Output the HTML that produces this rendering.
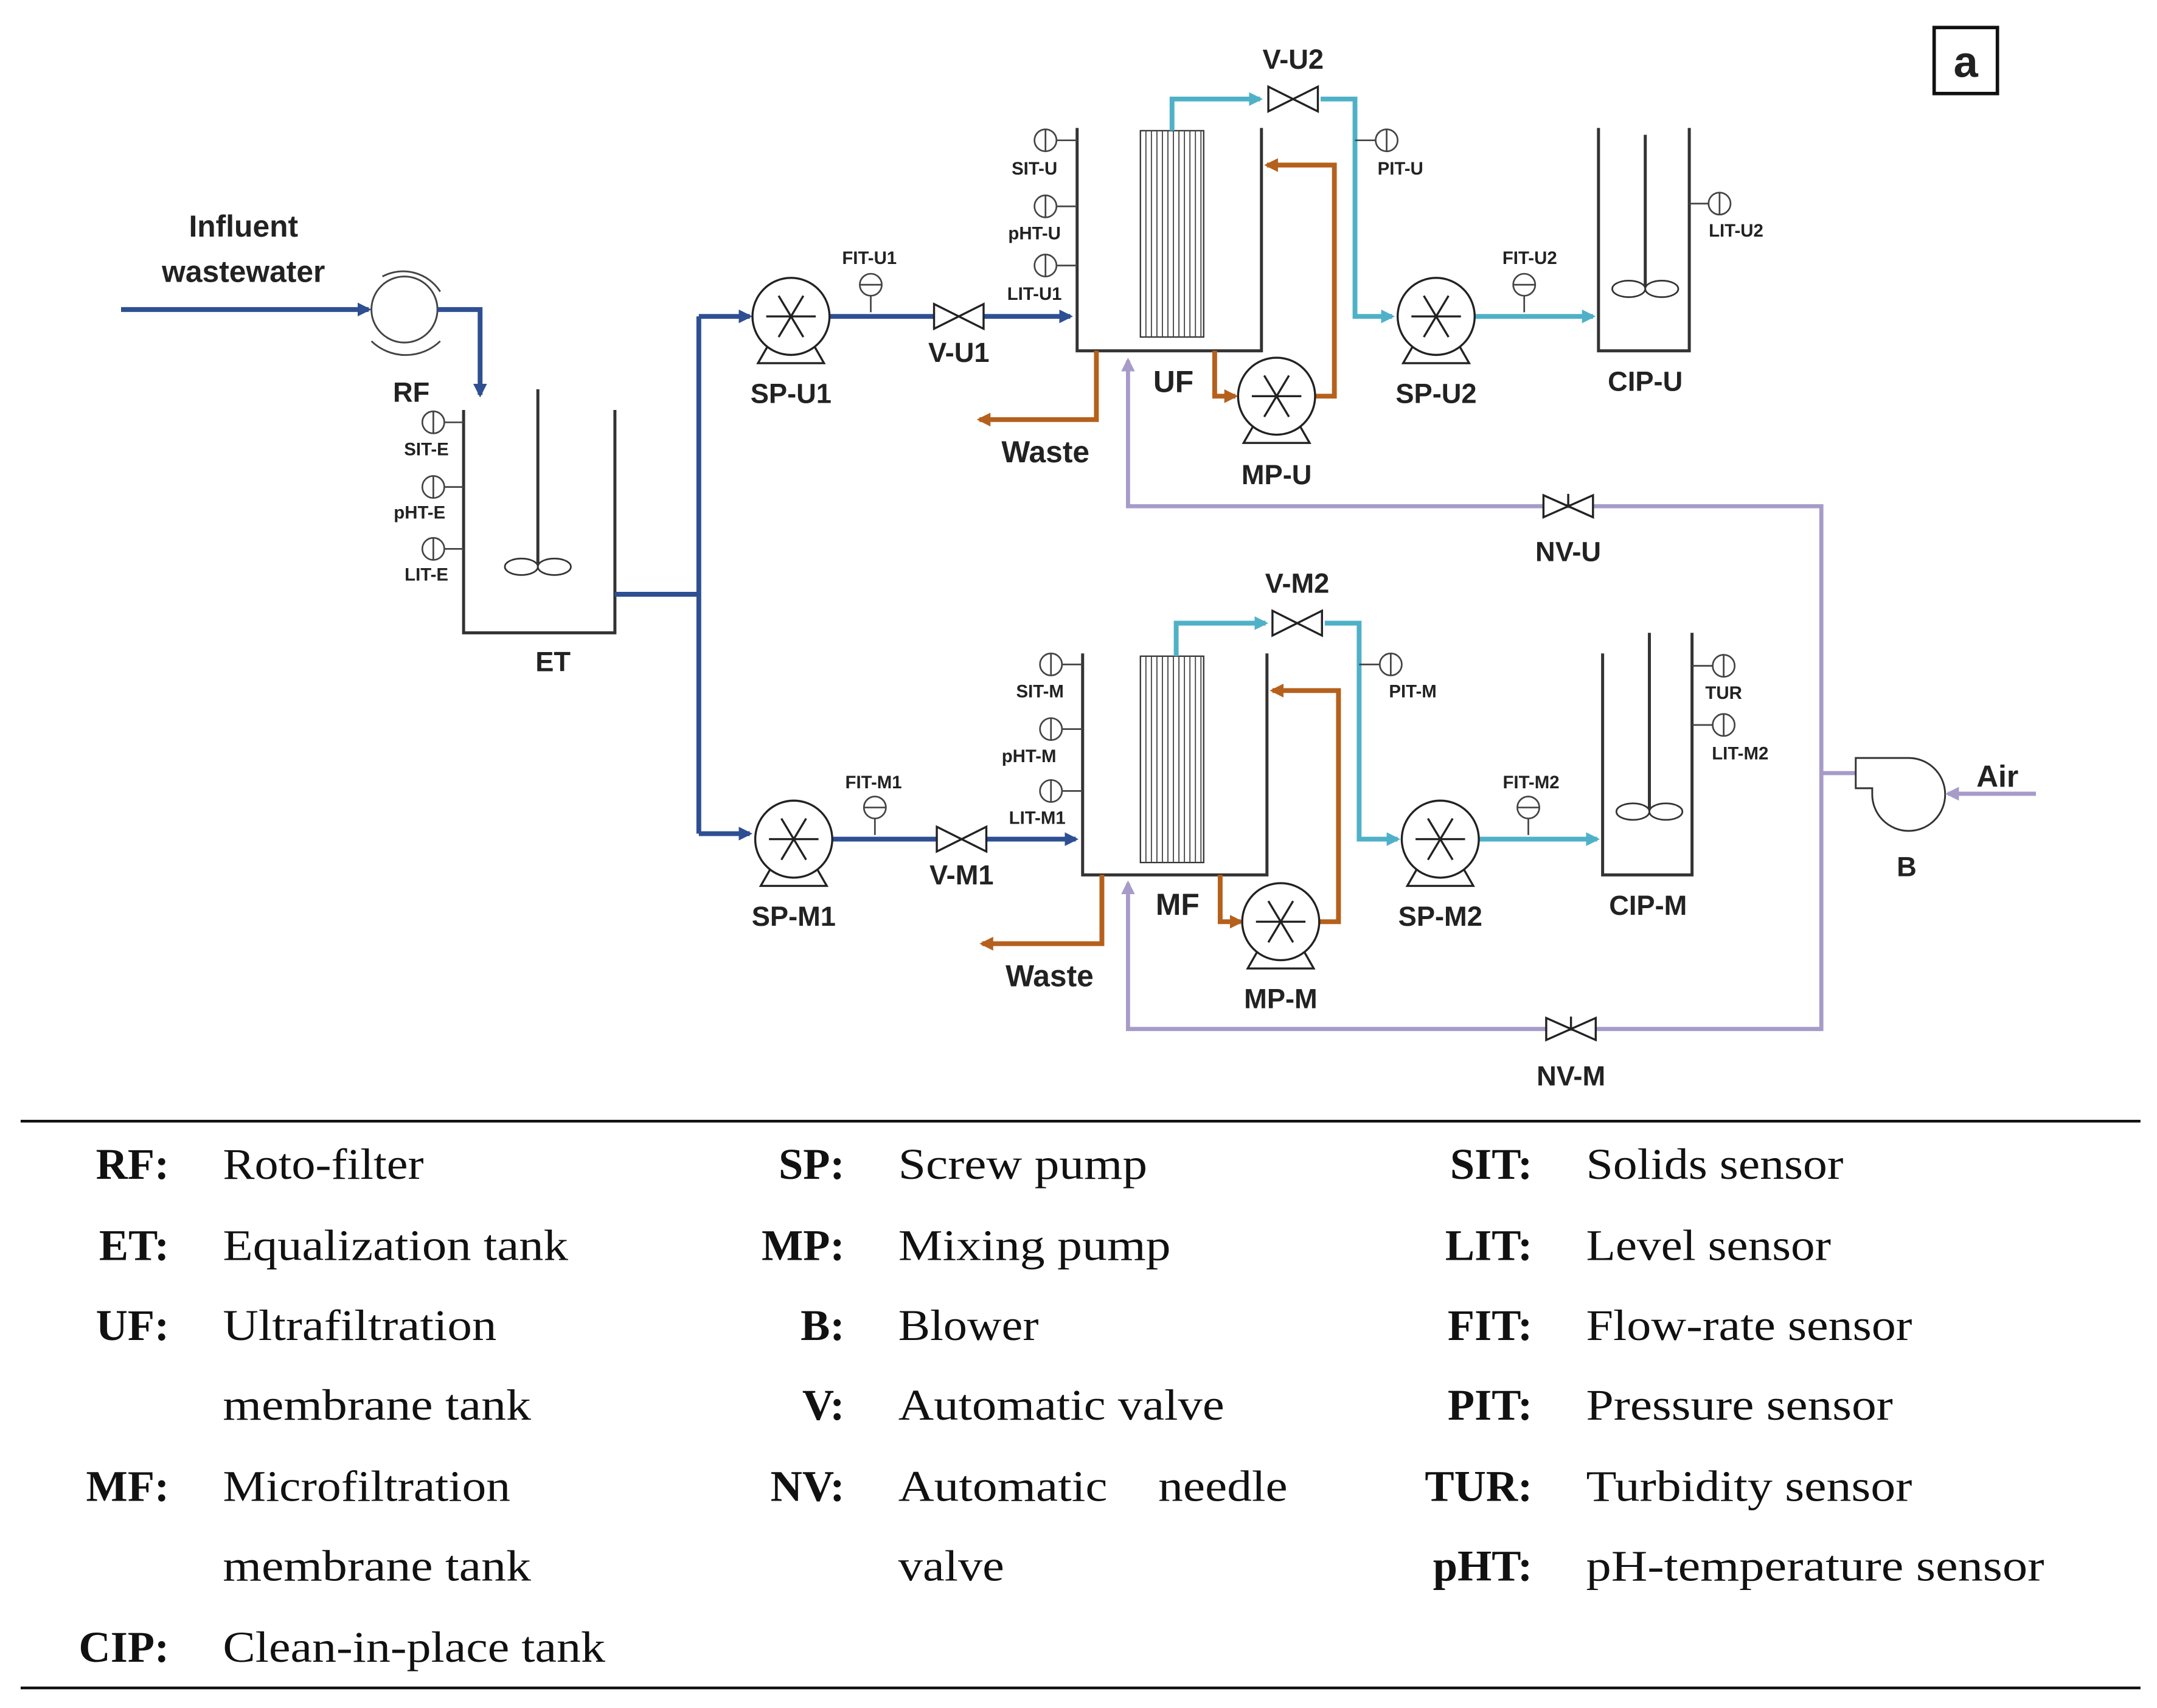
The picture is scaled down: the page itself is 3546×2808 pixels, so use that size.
<!DOCTYPE html>
<html><head><meta charset="utf-8"><style>
html,body{margin:0;padding:0;background:#fff}
svg{display:block}
.l{font-family:"Liberation Sans",sans-serif;font-weight:bold;fill:#222}
.s{font-size:13px}
.m{font-size:22px}
.t{font-family:"Liberation Serif",serif;font-size:32px;fill:#111}
.b{font-weight:bold}
</style></head><body>
<svg width="3546" height="2808" viewBox="0 0 1568 1241.6" preserveAspectRatio="none" xmlns="http://www.w3.org/2000/svg">
<defs>
<marker id="ab" markerWidth="10" markerHeight="10" refX="8" refY="5" orient="auto" markerUnits="userSpaceOnUse"><path d="M0,0 L10,5 L0,10 z" fill="#2e4f92"/></marker>
<marker id="ac" markerWidth="10" markerHeight="10" refX="8" refY="5" orient="auto" markerUnits="userSpaceOnUse"><path d="M0,0 L10,5 L0,10 z" fill="#4fb1c8"/></marker>
<marker id="ao" markerWidth="10" markerHeight="10" refX="8" refY="5" orient="auto" markerUnits="userSpaceOnUse"><path d="M0,0 L10,5 L0,10 z" fill="#b5601c"/></marker>
<marker id="ap" markerWidth="10" markerHeight="10" refX="8" refY="5" orient="auto" markerUnits="userSpaceOnUse"><path d="M0,0 L10,5 L0,10 z" fill="#a79bc9"/></marker>
<g id="pump" fill="#fff" stroke="#222" stroke-width="1.5"><path d="M-16,20 L-24,34 L24,34 L16,20"/><circle r="28"/><path d="M-18,0 H18 M-9,-15 L9,15 M-9,15 L9,-15" fill="none"/></g>
<g id="valve" fill="#fff" stroke="#222" stroke-width="1.5"><path d="M-18,-9 L18,9 L18,-9 L-18,9 Z"/></g>
<g id="nvalve" fill="#fff" stroke="#222" stroke-width="1.5"><path d="M-18,-8 L18,8 L18,-8 L-18,8 Z"/><path d="M0,0 V-9" /></g>
<g id="sen" fill="#fff" stroke="#444" stroke-width="1.2"><circle r="8"/><path d="M0,-8 V8"/></g>
<g id="fsen" fill="#fff" stroke="#444" stroke-width="1.2"><path d="M0,8 V20"/><circle r="8"/><path d="M-8,0 H8"/></g>
</defs>

<rect x="1406" y="20" width="46" height="48" fill="none" stroke="#111" stroke-width="2.5"/>
<text x="1429" y="56" text-anchor="middle" class="l" style="font-size:32px">a</text>

<text x="177" y="172" text-anchor="middle" class="l m">Influent</text>
<text x="177" y="205" text-anchor="middle" class="l m">wastewater</text>
<path d="M88,225 H268" stroke="#2e4f92" stroke-width="3.5" fill="none" marker-end="url(#ab)"/>
<circle cx="294" cy="225" r="24" fill="#fff" stroke="#444" stroke-width="1.3"/>
<path d="M278,201 A32,32 0 0 1 320,212" fill="none" stroke="#444" stroke-width="1.3"/>
<path d="M270,248 A36,36 0 0 0 320,248" fill="none" stroke="#444" stroke-width="1.3"/>
<path d="M318,225 H349 V287" stroke="#2e4f92" stroke-width="3.5" fill="none" marker-end="url(#ab)"/>
<text x="299" y="292" text-anchor="middle" class="l" style="font-size:20px">RF</text>

<path d="M337,298 V460 H447 V298" fill="none" stroke="#333" stroke-width="2.2"/>
<path d="M391,283 V410" stroke="#333" stroke-width="2.2"/>
<ellipse cx="379" cy="412" rx="12" ry="6" fill="#fff" stroke="#333" stroke-width="1.2"/>
<ellipse cx="403" cy="412" rx="12" ry="6" fill="#fff" stroke="#333" stroke-width="1.2"/>
<path d="M323,307 H337 M323,354 H337 M323,399 H337" stroke="#444" stroke-width="1.2"/>
<use href="#sen" x="315" y="307"/><use href="#sen" x="315" y="354"/><use href="#sen" x="315" y="399"/>
<text x="310" y="331" text-anchor="middle" class="l s">SIT-E</text>
<text x="305" y="377" text-anchor="middle" class="l s">pHT-E</text>
<text x="310" y="422" text-anchor="middle" class="l s">LIT-E</text>
<text x="402" y="488" text-anchor="middle" class="l" style="font-size:20px">ET</text>

<path d="M447,432 H508 M508,230 V606" stroke="#2e4f92" stroke-width="3.5" fill="none"/>
<path d="M508,230 H545" stroke="#2e4f92" stroke-width="3.5" fill="none" marker-end="url(#ab)"/>
<path d="M508,606 H545" stroke="#2e4f92" stroke-width="3.5" fill="none" marker-end="url(#ab)"/>

<path d="M603,230 H680 M715,230 H778" stroke="#2e4f92" stroke-width="3.5" fill="none" marker-end="url(#ab)"/>
<use href="#pump" x="575" y="230"/>
<use href="#valve" x="697" y="230"/>
<use href="#fsen" x="633" y="207"/>
<text x="632" y="192" text-anchor="middle" class="l s">FIT-U1</text>
<text x="575" y="293" text-anchor="middle" class="l" style="font-size:20px">SP-U1</text>
<text x="697" y="263" text-anchor="middle" class="l" style="font-size:20px">V-U1</text>
<path d="M783,93 V255 H917 V93" fill="none" stroke="#333" stroke-width="2.2"/>
<rect x="829" y="95" width="46" height="150" fill="#fff" stroke="#333" stroke-width="1"/>
<path d="M833,95V245M837,95V245M841,95V245M845,95V245M849,95V245M853,95V245M857,95V245M861,95V245M865,95V245M869,95V245M873,95V245" stroke="#444" stroke-width="0.8"/>
<path d="M768,102 H783 M768,150 H783 M768,193 H783" stroke="#444" stroke-width="1.2"/>
<use href="#sen" x="760" y="102"/><use href="#sen" x="760" y="150"/><use href="#sen" x="760" y="193"/>
<text x="752" y="127" text-anchor="middle" class="l s">SIT-U</text>
<text x="752" y="174" text-anchor="middle" class="l s">pHT-U</text>
<text x="752" y="218" text-anchor="middle" class="l s">LIT-U1</text>
<text x="853" y="285" text-anchor="middle" class="l" style="font-size:22px">UF</text>
<path d="M852,95 V72 H916" stroke="#4fb1c8" stroke-width="3.5" fill="none" marker-end="url(#ac)"/>
<path d="M960,72 H985 V230 H1012" stroke="#4fb1c8" stroke-width="3.5" fill="none" marker-end="url(#ac)"/>
<path d="M1072,230 H1158" stroke="#4fb1c8" stroke-width="3.5" fill="none" marker-end="url(#ac)"/>
<use href="#valve" x="940" y="72"/>
<text x="940" y="50" text-anchor="middle" class="l" style="font-size:20px">V-U2</text>
<path d="M985,102 H1000" stroke="#444" stroke-width="1.2"/><use href="#sen" x="1008" y="102"/>
<text x="1018" y="127" text-anchor="middle" class="l s">PIT-U</text>
<use href="#pump" x="1044" y="230"/>
<text x="1044" y="293" text-anchor="middle" class="l" style="font-size:20px">SP-U2</text>
<use href="#fsen" x="1108" y="207"/>
<text x="1112" y="192" text-anchor="middle" class="l s">FIT-U2</text>
<path d="M883,255 V288 H898" stroke="#b5601c" stroke-width="3.5" fill="none" marker-end="url(#ao)"/>
<path d="M956,288 H970 V120 H921" stroke="#b5601c" stroke-width="3.5" fill="none" marker-end="url(#ao)"/>
<path d="M797,255 V305 H712" stroke="#b5601c" stroke-width="3.5" fill="none" marker-end="url(#ao)"/>
<use href="#pump" x="928" y="288"/>
<text x="760" y="336" text-anchor="middle" class="l" style="font-size:22px">Waste</text>
<text x="928" y="352" text-anchor="middle" class="l" style="font-size:20px">MP-U</text>
<path d="M1162,93 V255 H1228 V93" fill="none" stroke="#333" stroke-width="2.2"/>
<path d="M1196,98 V208" stroke="#333" stroke-width="2.2"/>
<ellipse cx="1184" cy="210" rx="12" ry="6" fill="#fff" stroke="#333" stroke-width="1.2"/>
<ellipse cx="1208" cy="210" rx="12" ry="6" fill="#fff" stroke="#333" stroke-width="1.2"/>
<path d="M1228,148 H1242" stroke="#444" stroke-width="1.2"/><use href="#sen" x="1250" y="148"/>
<text x="1262" y="172" text-anchor="middle" class="l s">LIT-U2</text>
<text x="1196" y="284" text-anchor="middle" class="l" style="font-size:20px">CIP-U</text>

<path d="M605,610 H682 M717,610 H782" stroke="#2e4f92" stroke-width="3.5" fill="none" marker-end="url(#ab)"/>
<use href="#pump" x="577" y="610"/>
<use href="#valve" x="699" y="610"/>
<use href="#fsen" x="636" y="587"/>
<text x="635" y="573" text-anchor="middle" class="l s">FIT-M1</text>
<text x="577" y="673" text-anchor="middle" class="l" style="font-size:20px">SP-M1</text>
<text x="699" y="643" text-anchor="middle" class="l" style="font-size:20px">V-M1</text>
<path d="M787,475 V636 H921 V475" fill="none" stroke="#333" stroke-width="2.2"/>
<rect x="829" y="477" width="46" height="150" fill="#fff" stroke="#333" stroke-width="1"/>
<path d="M833,477V627M837,477V627M841,477V627M845,477V627M849,477V627M853,477V627M857,477V627M861,477V627M865,477V627M869,477V627M873,477V627" stroke="#444" stroke-width="0.8"/>
<path d="M772,483 H787 M772,530 H787 M772,575 H787" stroke="#444" stroke-width="1.2"/>
<use href="#sen" x="764" y="483"/><use href="#sen" x="764" y="530"/><use href="#sen" x="764" y="575"/>
<text x="756" y="507" text-anchor="middle" class="l s">SIT-M</text>
<text x="748" y="554" text-anchor="middle" class="l s">pHT-M</text>
<text x="754" y="599" text-anchor="middle" class="l s">LIT-M1</text>
<text x="856" y="665" text-anchor="middle" class="l" style="font-size:22px">MF</text>
<path d="M855,477 V453 H920" stroke="#4fb1c8" stroke-width="3.5" fill="none" marker-end="url(#ac)"/>
<path d="M963,453 H988 V610 H1016" stroke="#4fb1c8" stroke-width="3.5" fill="none" marker-end="url(#ac)"/>
<path d="M1075,610 H1161" stroke="#4fb1c8" stroke-width="3.5" fill="none" marker-end="url(#ac)"/>
<use href="#valve" x="943" y="453"/>
<text x="943" y="431" text-anchor="middle" class="l" style="font-size:20px">V-M2</text>
<path d="M988,483 H1003" stroke="#444" stroke-width="1.2"/><use href="#sen" x="1011" y="483"/>
<text x="1027" y="507" text-anchor="middle" class="l s">PIT-M</text>
<use href="#pump" x="1047" y="610"/>
<text x="1047" y="673" text-anchor="middle" class="l" style="font-size:20px">SP-M2</text>
<use href="#fsen" x="1111" y="587"/>
<text x="1113" y="573" text-anchor="middle" class="l s">FIT-M2</text>
<path d="M887,636 V670 H902" stroke="#b5601c" stroke-width="3.5" fill="none" marker-end="url(#ao)"/>
<path d="M959,670 H973 V502 H925" stroke="#b5601c" stroke-width="3.5" fill="none" marker-end="url(#ao)"/>
<path d="M801,636 V686 H714" stroke="#b5601c" stroke-width="3.5" fill="none" marker-end="url(#ao)"/>
<use href="#pump" x="931" y="670"/>
<text x="763" y="717" text-anchor="middle" class="l" style="font-size:22px">Waste</text>
<text x="931" y="733" text-anchor="middle" class="l" style="font-size:20px">MP-M</text>
<path d="M1165,475 V636 H1230 V460" fill="none" stroke="#333" stroke-width="2.2"/>
<path d="M1199,460 V588" stroke="#333" stroke-width="2.2"/>
<ellipse cx="1187" cy="590" rx="12" ry="6" fill="#fff" stroke="#333" stroke-width="1.2"/>
<ellipse cx="1211" cy="590" rx="12" ry="6" fill="#fff" stroke="#333" stroke-width="1.2"/>
<path d="M1230,484 H1245 M1230,527 H1245" stroke="#444" stroke-width="1.2"/>
<use href="#sen" x="1253" y="484"/><use href="#sen" x="1253" y="527"/>
<text x="1253" y="508" text-anchor="middle" class="l s">TUR</text>
<text x="1265" y="552" text-anchor="middle" class="l s">LIT-M2</text>
<text x="1198" y="665" text-anchor="middle" class="l" style="font-size:20px">CIP-M</text>

<path d="M1324,562 V368 H820 V262" stroke="#a79bc9" stroke-width="3" fill="none" marker-end="url(#ap)"/>
<path d="M1324,562 V748 H820 V642" stroke="#a79bc9" stroke-width="3" fill="none" marker-end="url(#ap)"/>
<path d="M1324,562 H1349" stroke="#a79bc9" stroke-width="3" fill="none"/>
<use href="#nvalve" x="1140" y="368"/>
<use href="#nvalve" x="1142" y="748"/>
<text x="1140" y="408" text-anchor="middle" class="l" style="font-size:20px">NV-U</text>
<text x="1142" y="789" text-anchor="middle" class="l" style="font-size:20px">NV-M</text>
<path d="M1349,551 H1387 A26.5,26.5 0 1 1 1361,577 V573 H1349 Z" fill="#fff" stroke="#333" stroke-width="1.3"/>
<path d="M1480,577 H1416" stroke="#a79bc9" stroke-width="3" fill="none" marker-end="url(#ap)"/>
<text x="1452" y="572" text-anchor="middle" class="l m">Air</text>
<text x="1386" y="637" text-anchor="middle" class="l" style="font-size:20px">B</text>

<path d="M15,815 H1556 M15,1227 H1556" stroke="#111" stroke-width="2"/>
<g class="t">
<text x="123" y="857" text-anchor="end" class="b">RF:</text><text x="162" y="857" textLength="146" lengthAdjust="spacingAndGlyphs">Roto-filter</text>
<text x="123" y="916" text-anchor="end" class="b">ET:</text><text x="162" y="916" textLength="251" lengthAdjust="spacingAndGlyphs">Equalization tank</text>
<text x="123" y="974" text-anchor="end" class="b">UF:</text><text x="162" y="974" textLength="199" lengthAdjust="spacingAndGlyphs">Ultrafiltration</text>
<text x="162" y="1032" textLength="224" lengthAdjust="spacingAndGlyphs">membrane tank</text>
<text x="123" y="1091" text-anchor="end" class="b">MF:</text><text x="162" y="1091" textLength="209" lengthAdjust="spacingAndGlyphs">Microfiltration</text>
<text x="162" y="1149" textLength="224" lengthAdjust="spacingAndGlyphs">membrane tank</text>
<text x="123" y="1208" text-anchor="end" class="b">CIP:</text><text x="162" y="1208" textLength="278" lengthAdjust="spacingAndGlyphs">Clean-in-place tank</text>

<text x="614" y="857" text-anchor="end" class="b">SP:</text><text x="653" y="857" textLength="181" lengthAdjust="spacingAndGlyphs">Screw pump</text>
<text x="614" y="916" text-anchor="end" class="b">MP:</text><text x="653" y="916" textLength="198" lengthAdjust="spacingAndGlyphs">Mixing pump</text>
<text x="614" y="974" text-anchor="end" class="b">B:</text><text x="653" y="974" textLength="102" lengthAdjust="spacingAndGlyphs">Blower</text>
<text x="614" y="1032" text-anchor="end" class="b">V:</text><text x="653" y="1032" textLength="237" lengthAdjust="spacingAndGlyphs">Automatic valve</text>
<text x="614" y="1091" text-anchor="end" class="b">NV:</text><text x="653" y="1091" textLength="152" lengthAdjust="spacingAndGlyphs">Automatic</text><text x="842" y="1091" textLength="94" lengthAdjust="spacingAndGlyphs">needle</text>
<text x="653" y="1149" textLength="77" lengthAdjust="spacingAndGlyphs">valve</text>

<text x="1114" y="857" text-anchor="end" class="b">SIT:</text><text x="1153" y="857" textLength="187" lengthAdjust="spacingAndGlyphs">Solids sensor</text>
<text x="1114" y="916" text-anchor="end" class="b">LIT:</text><text x="1153" y="916" textLength="178" lengthAdjust="spacingAndGlyphs">Level sensor</text>
<text x="1114" y="974" text-anchor="end" class="b">FIT:</text><text x="1153" y="974" textLength="237" lengthAdjust="spacingAndGlyphs">Flow-rate sensor</text>
<text x="1114" y="1032" text-anchor="end" class="b">PIT:</text><text x="1153" y="1032" textLength="223" lengthAdjust="spacingAndGlyphs">Pressure sensor</text>
<text x="1114" y="1091" text-anchor="end" class="b">TUR:</text><text x="1153" y="1091" textLength="237" lengthAdjust="spacingAndGlyphs">Turbidity sensor</text>
<text x="1114" y="1149" text-anchor="end" class="b">pHT:</text><text x="1153" y="1149" textLength="333" lengthAdjust="spacingAndGlyphs">pH-temperature sensor</text>
</g>
</svg>
</body></html>
